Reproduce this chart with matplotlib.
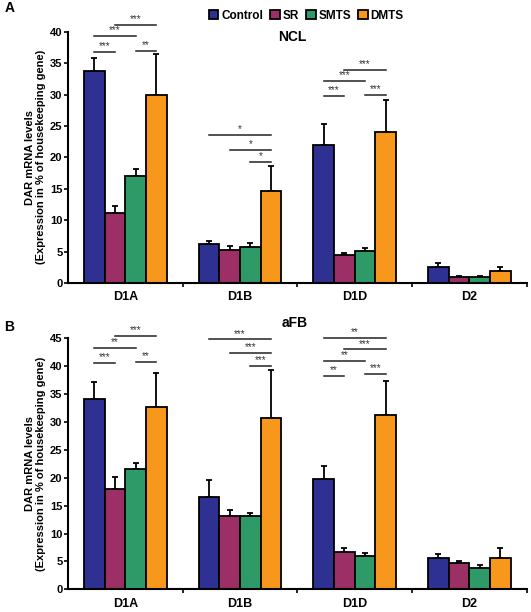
"""
DAR mRNA levels in NCL and aFB, grouped bar chart with significance brackets
"""

import numpy as np
import matplotlib
matplotlib.use('Agg')
import matplotlib.pyplot as plt

plt.rcParams['font.family'] = ['Liberation Sans', 'DejaVu Sans']
plt.rcParams['font.weight'] = 'bold'

# Data
receptors = ['D1A', 'D1B', 'D1D', 'D2']
groups = ['Control', 'SR', 'SMTS', 'DMTS']
colors = ['#2E3192', '#9B2F66', '#2E9A68', '#F7981D']

ncl_mean = [[33.7, 6.2, 21.9, 2.5],
            [11.1, 5.25, 4.4, 1.0],
            [17.0, 5.7, 5.1, 0.95],
            [29.9, 14.6, 24.0, 1.9]]
ncl_err = [[2.1, 0.5, 3.4, 0.7],
           [1.2, 0.6, 0.3, 0.15],
           [1.1, 0.7, 0.5, 0.15],
           [6.5, 4.1, 5.2, 0.6]]

afb_mean = [[34.1, 16.5, 19.8, 5.7],
            [18.05, 13.1, 6.6, 4.7],
            [21.5, 13.1, 6.0, 3.9],
            [32.6, 30.8, 31.2, 5.7]]
afb_err = [[3.1, 3.1, 2.3, 0.6],
           [2.0, 1.2, 0.75, 0.4],
           [1.1, 0.5, 0.5, 0.5],
           [6.2, 8.5, 6.2, 1.7]]

# significance: (receptor, group_from, group_to, height, stars)
ncl_sig = [(0, 0, 1, 36.8, '***'), (0, 0, 2, 39.3, '***'), (0, 1, 3, 41.1, '***'),
           (0, 2, 3, 37.0, '**'),
           (1, 0, 3, 23.6, '*'), (1, 1, 3, 21.2, '*'), (1, 2, 3, 19.3, '*'),
           (2, 0, 1, 29.7, '***'), (2, 0, 2, 32.2, '***'), (2, 1, 3, 33.9, '***'),
           (2, 2, 3, 29.9, '***')]
afb_sig = [(0, 0, 1, 40.6, '***'), (0, 0, 2, 43.2, '**'), (0, 1, 3, 45.4, '***'),
           (0, 2, 3, 40.7, '**'),
           (1, 0, 3, 44.8, '***'), (1, 1, 3, 42.3, '***'), (1, 2, 3, 40.1, '***'),
           (2, 0, 1, 38.3, '**'), (2, 0, 2, 40.9, '**'), (2, 1, 3, 43.0, '***'),
           (2, 0, 3, 45.0, '**'), (2, 2, 3, 38.6, '***')]

width = 0.18
offsets = (np.arange(4) - 1.5) * width


def draw_panel(ax, means, errs, sigs, ymax, ystep):
    x = np.arange(len(receptors))
    for i, g in enumerate(groups):
        ax.bar(x + offsets[i], means[i], width, color=colors[i], edgecolor='black',
               linewidth=1.3, label=g, zorder=2)
        ax.errorbar(x + offsets[i], means[i], yerr=[np.zeros(4), errs[i]], fmt='none',
                    ecolor='black', elinewidth=1.3, capsize=2.5, capthick=1.3, zorder=1)
    for r, g1, g2, h, stars in sigs:
        x1 = r + offsets[g1]
        x2 = r + offsets[g2]
        ax.plot([x1, x2], [h, h], color='#222222', lw=1.1, clip_on=False)
        ax.text((x1 + x2) / 2, h + 0.15, stars, ha='center', va='bottom',
                fontsize=7, color='#333333', fontweight='normal', clip_on=False)

    ax.set_xlim(-0.5, 3.5)
    ax.set_ylim(0, ymax)
    ax.set_yticks(np.arange(0, ymax + 1, ystep))
    ax.set_xticks(x)
    ax.set_xticklabels(receptors, fontsize=9, fontweight='bold')
    ax.tick_params(axis='x', length=0, pad=6)
    ax.set_xticks(np.arange(0.5, 4, 1), minor=True)
    ax.tick_params(axis='x', which='minor', length=3, width=1.2, direction='out')
    ax.tick_params(axis='y', length=3, width=1.2, labelsize=8, pad=1)
    for lab in ax.get_yticklabels():
        lab.set_fontweight('bold')
    for side in ['top', 'right']:
        ax.spines[side].set_visible(False)
    for side in ['left', 'bottom']:
        ax.spines[side].set_linewidth(1.5)
    ax.set_ylabel('DAR mRNA levels\n(Expression in % of housekeeping gene)',
                  fontsize=8, fontweight='bold', linespacing=1.15)
    ax.yaxis.set_label_coords(-0.047, 0.5)


fig = plt.figure(figsize=(5.31, 6.12), dpi=100)
ax_a = fig.add_axes([0.128, 0.5376, 0.864, 0.4106])
ax_b = fig.add_axes([0.128, 0.0371, 0.864, 0.4101])

draw_panel(ax_a, ncl_mean, ncl_err, ncl_sig, 40, 5)
draw_panel(ax_b, afb_mean, afb_err, afb_sig, 45, 5)

handles, labels = ax_a.get_legend_handles_labels()
fig.legend(handles, labels, ncol=4, loc='center', bbox_to_anchor=(0.577, 1 - 16 / 612),
           frameon=False, handlelength=0.8, handleheight=0.8, handletextpad=0.25,
           columnspacing=0.6, prop={'size': 8.5, 'weight': 'bold'})

fig.text(292 / 531, 1 - 37 / 612, 'NCL', ha='center', va='center', fontsize=10, fontweight='bold')
fig.text(295 / 531, 1 - 323 / 612, 'aFB', ha='center', va='center', fontsize=10, fontweight='bold')
fig.text(0.008, 1 - 8 / 612, 'A', ha='left', va='center', fontsize=10, fontweight='bold')
fig.text(0.008, 1 - 327 / 612, 'B', ha='left', va='center', fontsize=10, fontweight='bold')

fig.savefig('out.png', dpi=100)
